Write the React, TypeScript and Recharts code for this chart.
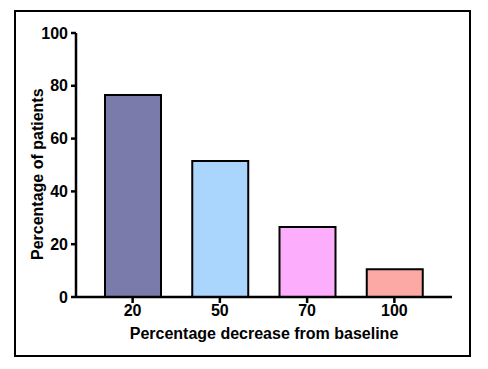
import { BarChart, Bar, Cell, XAxis, YAxis } from "recharts";

const categories = ["20", "50", "70", "100"];
const patients = [76.5, 51.5, 26.5, 10.5];
const barColors = ["#7b7bab", "#aad6fd", "#fcaefc", "#fca9a5"];
const yTicks = [0, 20, 40, 60, 80, 100];

const data = categories.map((c, i) => ({ name: c, value: patients[i] }));

const font = "'Liberation Sans', Arial, sans-serif";

export default function App() {
  return (
    <div style={{ position: "relative", width: 488, height: 369, margin: -8, background: "#fff" }}>
      <div
        style={{
          position: "absolute",
          left: 14,
          top: 10,
          width: 457,
          height: 347,
          border: "2px solid #000",
          boxSizing: "border-box",
        }}
      />
      <div style={{ position: "absolute", left: 0, top: 0 }}>
        <BarChart
          width={488}
          height={369}
          data={data}
          margin={{ top: 33, right: 36, bottom: 10, left: 28 }}
          style={{ fontFamily: font }}
        >
          <XAxis
            dataKey="name"
            height={62}
            padding={{ left: 13, right: 14 }}
            axisLine={{ stroke: "#000", strokeWidth: 2.5 }}
            tickLine={{ stroke: "#000", strokeWidth: 2.5 }}
            tickSize={6}
            tickMargin={2}
            tick={{ fill: "#000", fontSize: 16, fontWeight: "bold" }}
            label={{
              value: "Percentage decrease from baseline",
              position: "insideBottom",
              offset: 20,
              fill: "#000",
              fontSize: 16,
              fontWeight: "bold",
            }}
          />
          <YAxis
            width={48}
            domain={[0, 100]}
            ticks={yTicks}
            interval={0}
            axisLine={{ stroke: "#000", strokeWidth: 2.5 }}
            tickLine={{ stroke: "#000", strokeWidth: 2.5 }}
            tickSize={5}
            tickMargin={3}
            tick={{ fill: "#000", fontSize: 16, fontWeight: "bold" }}
            label={{
              value: "Percentage of patients",
              angle: -90,
              position: "insideLeft",
              offset: 9,
              dy: 95,
              fill: "#000",
              fontSize: 16,
              fontWeight: "bold",
            }}
          />
          <Bar dataKey="value" barSize={56} stroke="#000" strokeWidth={2} isAnimationActive={false}>
            {data.map((entry, i) => (
              <Cell key={`cell-${entry.name}`} fill={barColors[i]} />
            ))}
          </Bar>
        </BarChart>
      </div>
    </div>
  );
}
